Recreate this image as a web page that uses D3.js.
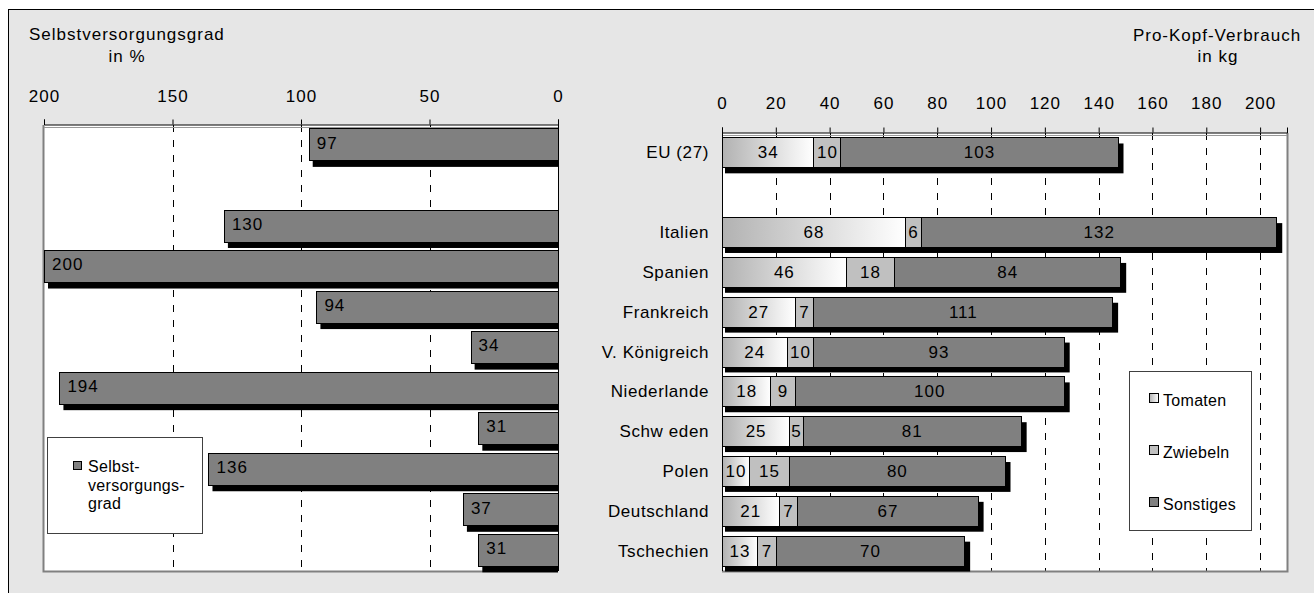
<!DOCTYPE html>
<html><head><meta charset="utf-8">
<script src="https://cdn.jsdelivr.net/npm/d3@7"></script>
<style>
html,body{margin:0;padding:0;background:#fff;}
svg text{font-family:"Liberation Sans",Arial,sans-serif;fill:#000;}
</style></head>
<body>
<script>
// ---- data ----
const categories = ["EU (27)", "", "Italien", "Spanien", "Frankreich", "V. Königreich", "Niederlande", "Schw eden", "Polen", "Deutschland", "Tschechien"];
const selbstversorgung = [97, null, 130, 200, 94, 34, 194, 31, 136, 37, 31];
const tomaten   = [34, null, 68, 46, 27, 24, 18, 25, 10, 21, 13];
const zwiebeln  = [10, null, 6, 18, 7, 10, 9, 5, 15, 7, 7];
const sonstiges = [103, null, 132, 84, 111, 93, 100, 81, 80, 67, 70];
const seriesNames = ["Tomaten", "Zwiebeln", "Sonstiges"];
const leftTicks = [200, 150, 100, 50, 0];
const rightTicks = [0, 20, 40, 60, 80, 100, 120, 140, 160, 180, 200];
const leftTitle = ["Selbstversorgungsgrad", "in %"];
const rightTitle = ["Pro-Kopf-Verbrauch", "in kg"];
const leftLegend = ["Selbst-", "versorgungs-", "grad"];

const W = 1314, H = 593;
const svg = d3.select("body").append("svg").attr("width", W).attr("height", H);
const defs = svg.append("defs");
const grad = defs.append("linearGradient").attr("id", "tomGrad").attr("x1", 0).attr("x2", 1).attr("y1", 0).attr("y2", 0);
grad.append("stop").attr("offset", "0%").attr("stop-color", "#b2b2b2");
grad.append("stop").attr("offset", "100%").attr("stop-color", "#ffffff");
const fills = ["url(#tomGrad)", "#c0c0c0", "#808080"];

// outer frame
svg.append("rect").attr("x", 8.5).attr("y", 9.5).attr("width", W + 20).attr("height", H + 20)
  .attr("fill", "#e6e6e6").attr("stroke", "#000").attr("stroke-width", 1);

const FS = 17;
const txt = (g, x, y, s, anchor, size, ls) => g.append("text").attr("x", x).attr("y", y)
  .attr("text-anchor", anchor || "start").attr("font-size", size || FS)
  .attr("letter-spacing", ls === undefined ? 1 : ls).text(s);

// ================= LEFT PANEL =================
const L = {x0: 44, x1: 558, y0: 125, y1: 571};
const xL = d3.scaleLinear().domain([0, 200]).range([L.x1, L.x0]);
const yL = d3.scaleBand().domain(d3.range(categories.length)).range([L.y0 - 0.6, L.y1 - 0.6])
  .paddingInner(0.2).paddingOuter(0.1);
const gL = svg.append("g");
gL.append("rect").attr("x", L.x0).attr("y", L.y0).attr("width", L.x1 - L.x0).attr("height", L.y1 - L.y0).attr("fill", "#fff");
// gridlines
gL.selectAll("line.grid").data(leftTicks.filter(t => t > 0 && t < 200)).join("line")
  .attr("x1", d => Math.round(xL(d)) + 0.5).attr("x2", d => Math.round(xL(d)) + 0.5)
  .attr("y1", L.y0).attr("y2", L.y1).attr("stroke", "#000").attr("stroke-dasharray", "7,8");
// plot border (left & bottom gray)
gL.append("path").attr("d", `M${L.x0 - 0.5},${L.y0} V${L.y1 + 0.5} H${L.x1}`)
  .attr("fill", "none").attr("stroke", "#808080").attr("stroke-width", 2);
gL.append("line").attr("x1", L.x0).attr("x2", L.x1).attr("y1", L.y0 + 2.5).attr("y2", L.y0 + 2.5).attr("stroke", "#999");
// legend (drawn before bars? legend sits over gridlines)
const lg = gL.append("g");
lg.append("rect").attr("x", 47.5).attr("y", 437.5).attr("width", 155).attr("height", 96)
  .attr("fill", "#fff").attr("stroke", "#404040");
lg.append("rect").attr("x", 73.5).attr("y", 461.5).attr("width", 8).attr("height", 8)
  .attr("fill", "#808080").attr("stroke", "#000");
leftLegend.forEach((s, i) => txt(lg, 88, 472 + i * 18.5, s, "start", 16, 0.3));
// bars
const barsL = d3.range(categories.length).filter(i => selbstversorgung[i] != null);
gL.selectAll("rect.sh").data(barsL).join("rect")
  .attr("x", i => xL(selbstversorgung[i]) + 4)
  .attr("y", i => yL(i) + 6)
  .attr("width", i => Math.max(0, L.x1 - xL(selbstversorgung[i]) - 4))
  .attr("height", yL.bandwidth()).attr("fill", "#000");
gL.selectAll("rect.bar").data(barsL).join("rect")
  .attr("x", i => Math.round(xL(selbstversorgung[i])) + 0.5)
  .attr("y", i => Math.round(yL(i)) + 0.5)
  .attr("width", i => Math.round(L.x1 - xL(selbstversorgung[i])))
  .attr("height", Math.round(yL.bandwidth()))
  .attr("fill", "#808080").attr("stroke", "#000");
barsL.forEach(i => txt(gL, xL(selbstversorgung[i]) + 8, yL(i) + yL.bandwidth() / 2 + 4, String(selbstversorgung[i]), "start"));
// vertical axis line at 0
gL.append("line").attr("x1", L.x1 + 0.5).attr("x2", L.x1 + 0.5).attr("y1", L.y0).attr("y2", L.y1).attr("stroke", "#000");
// top axis
const axL = d3.axisTop(xL).tickValues(leftTicks).tickSize(5).tickPadding(18).tickFormat(d3.format("d"));
const aL = svg.append("g").attr("transform", `translate(0,${L.y0 - 0.5})`).call(axL);
aL.select(".domain").attr("stroke", "#000");
aL.selectAll("text").attr("font-size", FS).attr("letter-spacing", 1).attr("font-family", "Liberation Sans, Arial, sans-serif").attr("fill", "#000");
// titles
txt(svg, 29, 40, leftTitle[0], "start");
txt(svg, 127, 62, leftTitle[1], "middle");

// ================= RIGHT PANEL =================
const R = {x0: 722, x1: 1287, y0: 133, y1: 571};
const xR = d3.scaleLinear().domain([0, 210]).range([R.x0, R.x1]);
const yR = d3.scaleBand().domain(d3.range(categories.length)).range([R.y0 - 0.5, R.y1 - 0.5])
  .paddingInner(0.25).paddingOuter(0.125);
const gR = svg.append("g");
gR.append("rect").attr("x", R.x0).attr("y", R.y0).attr("width", R.x1 - R.x0).attr("height", R.y1 - R.y0).attr("fill", "#fff");
gR.selectAll("line.grid").data(rightTicks.filter(t => t > 0)).join("line")
  .attr("x1", d => Math.round(xR(d)) + 0.5).attr("x2", d => Math.round(xR(d)) + 0.5)
  .attr("y1", R.y0).attr("y2", R.y1).attr("stroke", "#000").attr("stroke-dasharray", "7,8");
gR.append("path").attr("d", `M${R.x0},${R.y1 + 0.5} H${R.x1 + 0.5} V${R.y0}`)
  .attr("fill", "none").attr("stroke", "#808080").attr("stroke-width", 2);
gR.append("line").attr("x1", R.x0).attr("x2", R.x1).attr("y1", R.y0 + 2.5).attr("y2", R.y0 + 2.5).attr("stroke", "#999");
// legend
const rg = gR.append("g");
rg.append("rect").attr("x", 1129.5).attr("y", 371.5).attr("width", 122).attr("height", 159)
  .attr("fill", "#fff").attr("stroke", "#404040");
seriesNames.forEach((s, k) => {
  const yy = 393.5 + k * 52;
  rg.append("rect").attr("x", 1149.5).attr("y", yy).attr("width", 9).attr("height", 9)
    .attr("fill", fills[k]).attr("stroke", "#000");
  txt(rg, 1163, yy + 12, s, "start", 16, 0.3);
});
// stacked bars
const stackData = d3.range(categories.length).filter(i => tomaten[i] != null)
  .map(i => ({i, Tomaten: tomaten[i], Zwiebeln: zwiebeln[i], Sonstiges: sonstiges[i]}));
const stacked = d3.stack().keys(seriesNames)(stackData);
const totals = stackData.map(d => ({i: d.i, total: d.Tomaten + d.Zwiebeln + d.Sonstiges}));
gR.selectAll("rect.sh").data(totals).join("rect")
  .attr("x", d => R.x0 + 3).attr("y", d => yR(d.i) + 6)
  .attr("width", d => xR(d.total) + 6 - R.x0 - 3).attr("height", yR.bandwidth()).attr("fill", "#000");
stacked.forEach((layer, k) => {
  gR.selectAll("rect.s" + k).data(layer).join("rect")
    .attr("x", d => Math.round(xR(d[0])) + 0.5)
    .attr("y", d => Math.round(yR(d.data.i)) + 0.5)
    .attr("width", d => Math.round(xR(d[1])) - Math.round(xR(d[0])))
    .attr("height", Math.round(yR.bandwidth()))
    .attr("fill", fills[k]).attr("stroke", "#000");
  layer.forEach(d => txt(gR, (xR(d[0]) + xR(d[1])) / 2 + 0.5, yR(d.data.i) + yR.bandwidth() / 2 + 6,
    String(d[1] - d[0]), "middle"));
});
gR.append("line").attr("x1", R.x0 + 0.5).attr("x2", R.x0 + 0.5).attr("y1", R.y0).attr("y2", R.y1).attr("stroke", "#000");
// category labels
categories.forEach((c, i) => { if (c) txt(svg, 709, yR(i) + yR.bandwidth() / 2 + 6, c, "end", FS, 0.6); });
// top axis
const axR = d3.axisTop(xR).tickValues(rightTicks).tickSize(5).tickPadding(19).tickFormat(d3.format("d"));
const aR = svg.append("g").attr("transform", `translate(0,${R.y0 - 0.5})`).call(axR);
aR.select(".domain").attr("stroke", "#000");
aR.selectAll("text").attr("font-size", FS).attr("letter-spacing", 1).attr("font-family", "Liberation Sans, Arial, sans-serif").attr("fill", "#000");
txt(svg, 1217, 40.5, rightTitle[0], "middle");
txt(svg, 1218, 62, rightTitle[1], "middle");
</script>
</body></html>
